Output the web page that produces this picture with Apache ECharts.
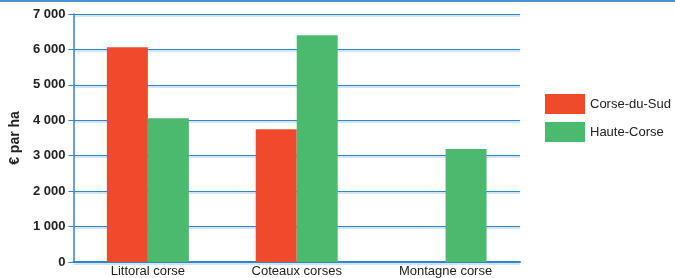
<!DOCTYPE html>
<html>
<head>
<meta charset="utf-8">
<script src="https://cdn.jsdelivr.net/npm/echarts@6/dist/echarts.min.js"></script>
<style>
  html, body { margin: 0; padding: 0; background: #fff; }
  #chart { width: 675px; height: 278px; }
</style>
</head>
<body>
<div id="chart"></div>
<script>
const categories = ['Littoral corse', 'Coteaux corses', 'Montagne corse']
const corseDuSud = [6060, 3750, null]
const hauteCorse = [4060, 6400, 3190]

const chart = echarts.init(document.getElementById('chart'))
const blue = '#2f86cc'

chart.setOption({
  animation: false,
  graphic: [
    { type: 'rect', left: 0, top: 0, shape: { width: 675, height: 2 }, style: { fill: '#4a93d4' } }
  ],
  legend: {
    orient: 'vertical',
    left: 545,
    top: 94,
    padding: 0,
    icon: 'rect',
    itemWidth: 40,
    itemHeight: 20,
    itemGap: 8,
    textStyle: { fontFamily: 'Liberation Sans', fontSize: 13, color: '#222' },
    data: ['Corse-du-Sud', 'Haute-Corse']
  },
  grid: { left: 71, right: 155, top: 14, bottom: 16 },
  xAxis: {
    type: 'category',
    data: categories,
    axisLine: { lineStyle: { color: blue, width: 2 } },
    axisTick: { show: false },
    axisLabel: { fontFamily: 'Liberation Sans', fontSize: 13, color: '#222', margin: 3 }
  },
  yAxis: {
    type: 'value',
    min: 0,
    max: 7000,
    interval: 1000,
    name: '€ par ha',
    nameLocation: 'middle',
    nameGap: 51,
    nameTextStyle: { fontFamily: 'Liberation Sans', fontSize: 14, fontWeight: 'bold', color: '#222' },
    axisLine: { show: true, lineStyle: { color: blue, width: 1.5 } },
    axisTick: { show: true, length: 5, lineStyle: { color: blue } },
    splitLine: { lineStyle: { color: blue, width: 1.2, shadowColor: '#a9cdee', shadowOffsetY: 1.5 } },
    axisLabel: {
      fontFamily: 'Liberation Sans', fontSize: 13, fontWeight: 'bold', color: '#222', margin: 8,
      formatter: v => String(v).replace(/\B(?=(\d{3})+(?!\d))/g, ' ')
    }
  },
  series: [
    {
      name: 'Corse-du-Sud',
      type: 'bar',
      data: corseDuSud,
      barWidth: 41,
      barGap: '0%',
      itemStyle: { color: '#f04a2c' }
    },
    {
      name: 'Haute-Corse',
      type: 'bar',
      data: hauteCorse,
      barWidth: 41,
      itemStyle: { color: '#4cba6e' }
    }
  ]
})
</script>
</body>
</html>
